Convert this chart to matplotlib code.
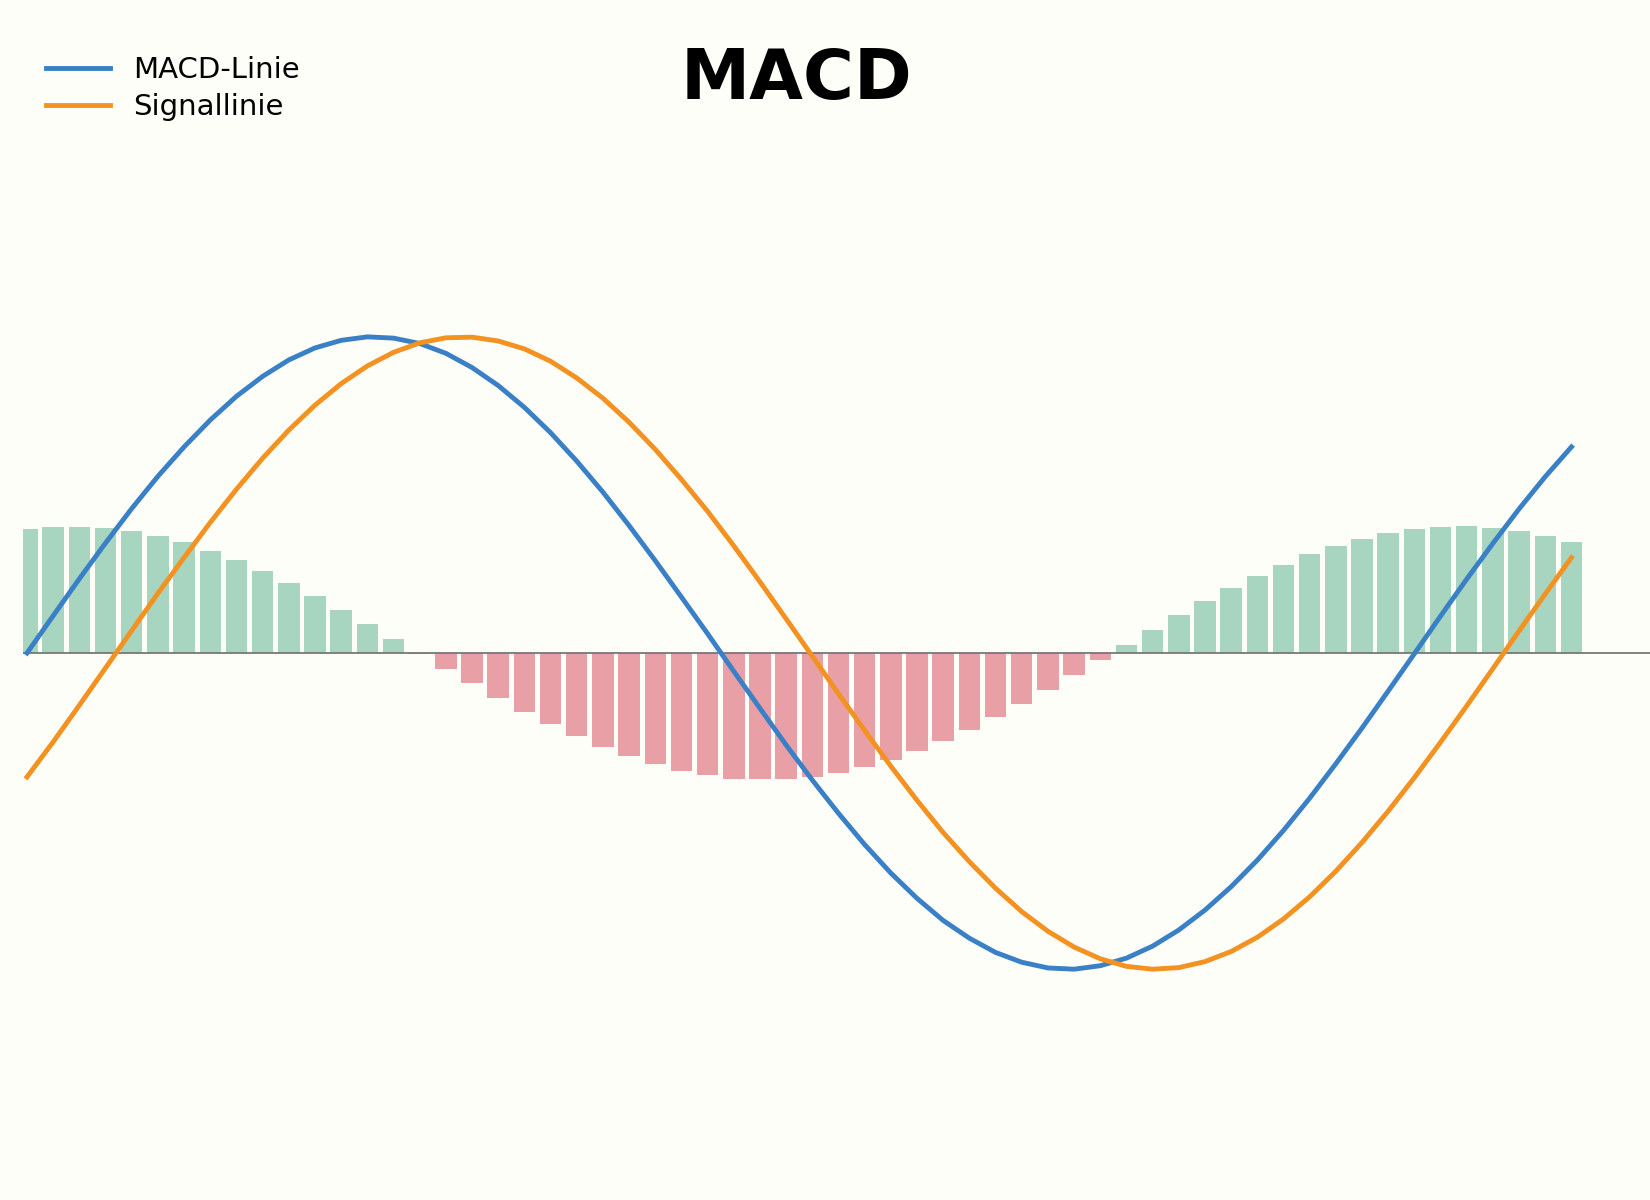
import matplotlib
matplotlib.use("Agg")
import matplotlib.pyplot as plt
import numpy as np

macd = [0, 0.118, 0.235, 0.348, 0.457, 0.559, 0.652, 0.737, 0.812, 0.875, 0.927, 0.965, 0.989, 1.0,
        0.996, 0.979, 0.948, 0.903, 0.846, 0.777, 0.697, 0.607, 0.509, 0.403, 0.292, 0.177, 0.061,
        -0.058, -0.175, -0.291, -0.402, -0.507, -0.606, -0.696, -0.776, -0.846, -0.902, -0.947,
        -0.978, -0.996, -1.0, -0.989, -0.965, -0.927, -0.876, -0.813, -0.739, -0.655, -0.561,
        -0.459, -0.350, -0.237, -0.120, -0.002, 0.117, 0.234, 0.347, 0.456, 0.558, 0.652]
signal = [-0.392, -0.281, -0.165, -0.047, 0.071, 0.189, 0.302, 0.413, 0.518, 0.616, 0.705, 0.784,
          0.852, 0.908, 0.951, 0.981, 0.997, 0.999, 0.987, 0.962, 0.923, 0.870, 0.806, 0.730, 0.644,
          0.549, 0.448, 0.339, 0.225, 0.108, -0.010, -0.129, -0.245, -0.358, -0.466, -0.568, -0.660,
          -0.744, -0.818, -0.880, -0.930, -0.967, -0.991, -1.0, -0.995, -0.976, -0.944, -0.899,
          -0.841, -0.771, -0.690, -0.599, -0.500, -0.394, -0.282, -0.167, -0.049, 0.070, 0.187, 0.302]
labels = ["MACD-Linie", "Signallinie"]
title = "MACD"

x = np.arange(len(macd))
hist = np.array(macd) - np.array(signal)
colors = ["#a8d5bf" if h >= 0 else "#e8a0a6" for h in hist]

bg = "#fefef9"
fig = plt.figure(figsize=(16.5, 12), dpi=100, facecolor=bg)
ax = fig.add_axes([0.014, 0.0, 0.986, 0.88])
ax.set_facecolor(bg)
ax.bar(x, hist, width=0.82, color=colors, zorder=1)
ax.axhline(0, color="#777777", lw=1.3, zorder=2)
l1, = ax.plot(x, macd, color="#3a80c6", lw=3.5, zorder=3)
l2, = ax.plot(x, signal, color="#f39221", lw=3.5, zorder=3)
ax.set_xlim(-0.15, 62)
ax.set_ylim(-1.73, 1.61)
for s in ax.spines.values():
    s.set_visible(False)
ax.set_xticks([]); ax.set_yticks([])
fig.text(0.483, 0.934, title, ha="center", va="center", fontsize=50, fontweight="bold")
fig.legend([l1, l2], labels, loc="upper left", bbox_to_anchor=(0.012, 0.975), frameon=False,
           fontsize=21, handlelength=2.2, labelspacing=0.3)
fig.savefig("out.png", dpi=100, facecolor=bg)
